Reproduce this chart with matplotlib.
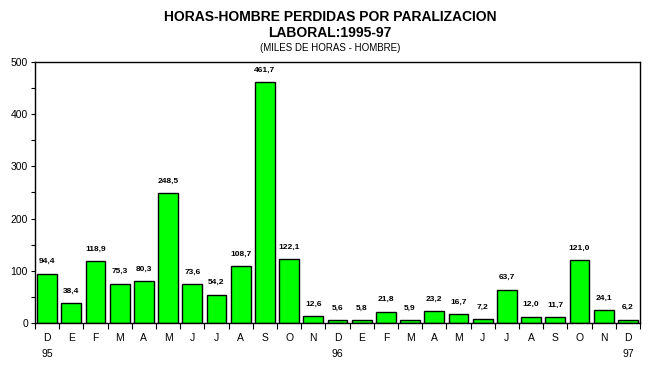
import matplotlib.pyplot as plt
import numpy as np

plt.rcParams['font.family'] = ['Liberation Sans', 'DejaVu Sans']

# months from D-95 to D-97
months = ['D', 'E', 'F', 'M', 'A', 'M', 'J', 'J', 'A', 'S', 'O', 'N',
          'D', 'E', 'F', 'M', 'A', 'M', 'J', 'J', 'A', 'S', 'O', 'N', 'D']
years = {0: '95', 12: '96', 24: '97'}
horas = [94.4, 38.4, 118.9, 75.3, 80.3, 248.5, 73.6, 54.2, 108.7, 461.7,
         122.1, 12.6, 5.6, 5.8, 21.8, 5.9, 23.2, 16.7, 7.2, 63.7,
         12.0, 11.7, 121.0, 24.1, 6.2]
etiquetas = ['94,4', '38,4', '118,9', '75,3', '80,3', '248,5', '73,6', '54,2',
             '108,7', '461,7', '122,1', '12,6', '5,6', '5,8', '21,8', '5,9',
             '23,2', '16,7', '7,2', '63,7', '12,0', '11,7', '121,0', '24,1', '6,2']

fig = plt.figure(figsize=(6.54, 3.69), dpi=100)
ax = fig.add_axes([0.0535, 0.125, 0.925, 0.707])

x = np.arange(len(horas))
ax.bar(x, horas, width=0.82, color='#00ff00', edgecolor='black', linewidth=1)

for xi, v, s in zip(x, horas, etiquetas):
    ax.annotate(s, (xi, v), xytext=(0, 6), textcoords='offset points',
                ha='center', va='bottom', fontsize=6, fontweight='bold')

ax.set_xlim(-0.5, len(horas) - 0.5)
ax.set_ylim(0, 500)
ax.set_yticks([0, 100, 200, 300, 400, 500])
ax.set_yticks(np.arange(50, 500, 100), minor=True)
ax.tick_params(axis='y', labelsize=7.5, length=3, width=0.8, pad=2)
ax.tick_params(axis='y', which='minor', length=3, width=0.8)

# ticks between bars, labels under bars
ax.set_xticks(np.arange(-0.5, len(horas), 1.0))
ax.set_xticklabels([])
ax.tick_params(axis='x', length=4, width=0.8)
for xi, m in zip(x, months):
    ax.text(xi, -0.04, m, transform=ax.get_xaxis_transform(),
            ha='center', va='top', fontsize=7.5)
for xi, yr in years.items():
    ax.text(xi, -0.1, yr, transform=ax.get_xaxis_transform(),
            ha='center', va='top', fontsize=7.5)

for sp in ax.spines.values():
    sp.set_linewidth(1)

fig.text(0.505, 0.955, 'HORAS-HOMBRE PERDIDAS POR PARALIZACION',
         ha='center', va='center', fontsize=10, fontweight='bold')
fig.text(0.505, 0.91, 'LABORAL:1995-97',
         ha='center', va='center', fontsize=10, fontweight='bold')
fig.text(0.505, 0.87, '(MILES DE HORAS - HOMBRE)',
         ha='center', va='center', fontsize=7)

fig.savefig('out.png', dpi=100)
